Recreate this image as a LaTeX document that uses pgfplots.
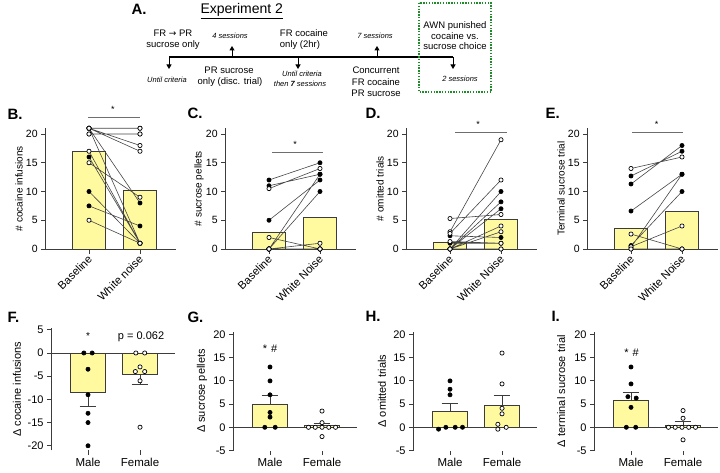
\documentclass[border=0pt]{standalone}
\usepackage{pgfplots}
\pgfplotsset{compat=1.18}
\usepackage{fontspec}
\setmainfont{Liberation Sans}
\newfontfamily\dejavu{DejaVu Sans}
\usetikzlibrary{arrows.meta}

\definecolor{baryel}{RGB}{255,250,160}
\definecolor{axg}{RGB}{60,60,60}
\definecolor{lng}{RGB}{70,70,70}
\definecolor{sigg}{RGB}{110,110,110}
\definecolor{boxg}{RGB}{30,140,40}

\newcommand{\fs}[1]{\fontsize{#1}{#1}\selectfont}

\pgfplotsset{
  panel/.style={
    scale only axis, axis lines*=left, clip=false, enlargelimits=false,
    tick align=outside,
    axis line style={draw=axg, line width=0.8pt},
    every tick/.style={draw=axg, line width=0.8pt},
    major tick length=4.5pt,
    xtick={0,1}, unbounded coords=jump,
    y tick label style={font=\fs{10.5}},
  },
  toprow/.style={panel, width=130.05pt, height=120.75pt,
    xmin=-0.85, xmax=1.7, ymin=0, ymax=21,
    ytick={0,5,10,15,20}, yticklabels={0,5,10,15,20},
    x tick label style={font=\fs{11.2}, rotate=45, anchor=east, yshift=-3.5pt, xshift=1.5pt},
    ylabel style={at={(axis description cs:-0.204,0.5)}, anchor=center, font=\fs{10}},
  },
  botrow/.style={panel, width=123.8pt, xmin=-0.7, xmax=1.68,
    x axis line style={draw=none},
    xticklabels={Male,Female},
    x tick label style={font=\fs{11.5}},
    y tick label style={font=\fs{11}},
  },
  bars/.style={ybar, bar width=0.66, fill=baryel, draw=axg, line width=0.8pt},
  conn/.style={draw=lng, line width=0.6pt, mark=none},
  mfill/.style={only marks, mark=*, mark size=2.1pt, mark options={draw=black, fill=black, line width=0.6pt}},
  mopen/.style={only marks, mark=*, mark size=2.1pt, mark options={draw=black, fill=white, line width=0.7pt}},
  errb/.style={draw=axg, line width=0.8pt, mark=none},
  zline/.style={draw=axg, line width=0.8pt, mark=none},
}

\begin{document}
\begin{tikzpicture}
\path[use as bounding box] (0pt,0pt) rectangle (720pt,-473pt);

% ---------------- Panel A ----------------
\node[anchor=base west, font=\bfseries\fs{15}] at (128pt,-15pt) {A.};
\node[anchor=base west, font=\fs{14}] at (197pt,-14pt) {\underline{Experiment 2}};
\draw[black, line width=1.1pt] (169pt,-57pt) -- (453pt,-57pt);
\foreach \xx in {169,298,453}{
  \draw[black, line width=1pt, -{Triangle[length=4.5pt,width=5pt]}] (\xx pt,-57pt) -- (\xx pt,-69pt);
}
\foreach \xx in {232,377}{
  \draw[black, line width=1pt, -{Triangle[length=4.5pt,width=5pt]}] (\xx pt,-57pt) -- (\xx pt,-46pt);
}
\node[anchor=base, font=\fs{9.5}] at (173pt,-37pt) {FR {\dejavu\fs{9}→} PR};
\node[anchor=base, font=\fs{9.5}] at (173pt,-48pt) {sucrose only};
\node[anchor=base, font=\itshape\fs{7.5}] at (230pt,-38.5pt) {4 sessions};
\node[anchor=base, font=\itshape\fs{7.5}] at (167pt,-83pt) {Until criteria};
\node[anchor=base, font=\fs{9.5}] at (229pt,-74pt) {PR sucrose};
\node[anchor=base, font=\fs{9.5}] at (230pt,-85pt) {only (disc. trial)};
\node[anchor=base, font=\fs{9.5}] at (304pt,-37pt) {FR cocaine};
\node[anchor=base, font=\fs{9.5}] at (300pt,-48pt) {only (2hr)};
\node[anchor=base, font=\itshape\fs{7.5}] at (302pt,-77pt) {Until criteria};
\node[anchor=base, font=\itshape\fs{7.5}] at (300pt,-87pt) {then \textbf{7} sessions};
\node[anchor=base, font=\itshape\fs{7.5}] at (375pt,-38.5pt) {7 sessions};
\node[anchor=base, font=\fs{9.5}] at (376pt,-74pt) {Concurrent};
\node[anchor=base, font=\fs{9.5}] at (376pt,-85.5pt) {FR cocaine};
\node[anchor=base, font=\fs{9.5}] at (376pt,-96.5pt) {PR sucrose};
\draw[boxg, line width=1.6pt, dash pattern=on 1.4pt off 1.4pt] (419pt,-3pt) rectangle (491pt,-92pt);
\node[anchor=base, font=\fs{9.5}] at (455pt,-29pt) {AWN punished};
\node[anchor=base, font=\fs{9.5}] at (455pt,-39.5pt) {cocaine vs.};
\node[anchor=base, font=\fs{9.5}] at (455pt,-50pt) {sucrose choice};
\node[anchor=base, font=\itshape\fs{7.5}] at (460pt,-82pt) {2 sessions};

% ---------------- Panel letters ----------------
\foreach \lab/\xx/\yy in {B./4/120, C./184/119, D./362/119, E./542/119, F./4/322, G./184/322, H./362/321, I./548/321}{
  \node[anchor=base west, font=\bfseries\fs{15}] at (\xx pt,-\yy pt) {\lab};
}

% ---------------- Panel B ----------------
\begin{axis}[toprow, at={(45.65pt,-249pt)}, anchor=south west,
  xticklabels={Baseline,White noise}, ylabel={\# cocaine infusions}]
\addplot[bars] coordinates {(0,16.9) (1,10.2)};
\addplot[conn] coordinates {(0,21)(1,21) (0.5,nan) (0,20)(1,20) (0.5,nan) (0,7.5)(1,4) (0.5,nan) (0,10)(1,1) (0.5,nan) (0,21)(1,8) (0.5,nan) (0,16)(1,1) (0.5,nan) (0,21)(1,1) (0.5,nan) (0,21)(1,18) (0.5,nan) (0,21)(1,17) (0.5,nan) (0,5)(1,1) (0.5,nan) (0,15)(1,9) (0.5,nan) (0,17)(1,1)};
\addplot[mfill] coordinates {(0,21)(1,21)(0,20)(1,20)(0,7.5)(1,4)(0,10)(1,1)(0,21)(1,8)(0,16)(1,1)(0,21)(1,1)};
\addplot[mopen] coordinates {(0,21)(1,21)(0,20)(1,20)(0,21)(1,18)(0,21)(1,17)(0,5)(1,1)(0,15)(1,9)(0,17)(1,1)};
\draw[sigg, line width=1pt] (axis cs:-0.02,22.8) -- (axis cs:1.0,22.8);
\node[font=\fs{9}] at (axis cs:0.47,24.2) {*};
\end{axis}

% ---------------- Panel C ----------------
\begin{axis}[toprow, at={(225.65pt,-249pt)}, anchor=south west,
  xticklabels={Baseline,White Noise}, ylabel={\# sucrose pellets}]
\addplot[bars] coordinates {(0,2.9) (1,5.55)};
\addplot[conn] coordinates {(0,12)(1,15) (0.5,nan) (0,11)(1,13) (0.5,nan) (0,5)(1,12) (0.5,nan) (0,0)(1,13) (0.5,nan) (0,0)(1,10) (0.5,nan) (0,10.5)(1,14) (0.5,nan) (0,2)(1,0) (0.5,nan) (0,0)(1,1) (0.5,nan) (0,0)(1,0)};
\addplot[mfill] coordinates {(0,12)(1,15)(0,11)(1,13)(0,5)(1,12)(0,0)(1,13)(0,0)(1,10)(0,0)(1,0)(0,0)(1,0)};
\addplot[mopen] coordinates {(0,10.5)(1,14)(0,2)(1,0)(0,0)(1,1)(0,0)(1,0)(0,0)(1,0)(0,0)(1,0)(0,0)(1,0)};
\draw[sigg, line width=1pt] (axis cs:0.06,16.7) -- (axis cs:1.06,16.7);
\node[font=\fs{9}] at (axis cs:0.51,18.2) {*};
\end{axis}

% ---------------- Panel D ----------------
\begin{axis}[toprow, at={(406.65pt,-249pt)}, anchor=south west,
  xticklabels={Baseline,White Noise}, ylabel={\# omitted trials}]
\addplot[bars] coordinates {(0,1.1) (1,5.2)};
\addplot[conn] coordinates {(0,0)(1,10) (0.5,nan) (0,0)(1,8.2) (0.5,nan) (0,0)(1,7) (0.5,nan) (0,2.3)(1,2) (0.5,nan) (0,1)(1,1) (0.5,nan) (0,5.3)(1,6) (0.5,nan) (0,3)(1,19) (0.5,nan) (0,2.7)(1,12) (0.5,nan) (0,0)(1,4) (0.5,nan) (0,0)(1,3) (0.5,nan) (0,1.3)(1,1) (0.5,nan) (0,0)(1,0)};
\addplot[mfill] coordinates {(0,0)(1,10)(0,0)(1,8.2)(0,0)(1,7)(0,2.3)(1,2)(0,1)(1,1)(0,0)(1,0)};
\addplot[mopen] coordinates {(0,5.3)(1,6)(0,3)(1,19)(0,2.7)(1,12)(0,0)(1,4)(0,0)(1,3)(0,1.3)(1,1)(0,0)(1,0)};
\draw[sigg, line width=1pt] (axis cs:0.1,20.2) -- (axis cs:1.12,20.2);
\node[font=\fs{9}] at (axis cs:0.55,21.7) {*};
\end{axis}

% ---------------- Panel E ----------------
\begin{axis}[toprow, at={(587.65pt,-249pt)}, anchor=south west,
  xticklabels={Baseline,White Noise}, ylabel={Terminal sucrose trial}]
\addplot[bars] coordinates {(0,3.5) (1,6.5)};
\addplot[conn] coordinates {(0,0.3)(1,13) (0.5,nan) (0,0.6)(1,10) (0.5,nan) (0,11.3)(1,18) (0.5,nan) (0,12.7)(1,17) (0.5,nan) (0,6.6)(1,13) (0.5,nan) (0,14)(1,16) (0.5,nan) (0,2.6)(1,0) (0.5,nan) (0,0.4)(1,4) (0.5,nan) (0,0)(1,0)};
\addplot[mfill] coordinates {(0,0.3)(1,13)(0,0.6)(1,10)(0,11.3)(1,18)(0,12.7)(1,17)(0,6.6)(1,13)(0,0)(1,0)};
\addplot[mopen] coordinates {(0,14)(1,16)(0,2.6)(1,0)(0,0.4)(1,4)(0,0)(1,0)};
\draw[sigg, line width=1pt] (axis cs:0.02,20.2) -- (axis cs:1.02,20.2);
\node[font=\fs{9}] at (axis cs:0.5,21.7) {*};
\end{axis}

% ---------------- Panel F ----------------
\begin{axis}[botrow, at={(51.6pt,-450.4pt)}, anchor=south west, height=122pt,
  ymin=-21, ymax=5.3, ytick={-20,-15,-10,-5,0,5}, yticklabels={-20,-15,-10,-5,0,5},
  ylabel={Δ cocaine infusions},
  ylabel style={at={(axis description cs:-0.28,0.5)}, anchor=center, font=\fs{11}}]
\addplot[bars] coordinates {(0,-8.6) (1,-4.65)};
\addplot[zline] coordinates {(-0.7,0) (1.68,0)};
\addplot[errb] coordinates {(0,-8.6)(0,-11.6) (0.5,nan) (-0.16,-11.6)(0.16,-11.6) (0.5,nan) (1,-4.65)(1,-6.75) (0.5,nan) (0.84,-6.75)(1.16,-6.75)};
\addplot[mfill] coordinates {(-0.08,0)(0.08,0)(0,-3.5)(0,-9)(0,-13)(0,-15)(0,-20)};
\addplot[mopen] coordinates {(0.92,0)(1.09,0)(1,-3)(0.91,-4)(1.09,-4)(1,-6)(1,-16)};
\node[font=\fs{10}] at (axis cs:0,3.6) {*};
\node[font=\fs{11}] at (axis cs:1.02,3.4) {p = 0.062};
\end{axis}

% ---------------- Panel G ----------------
\begin{axis}[botrow, at={(233.6pt,-450.5pt)}, anchor=south west, height=118.8pt,
  ymin=-5, ymax=20.6, ytick={-5,0,5,10,15,20}, yticklabels={-5,0,5,10,15,20},
  ylabel={Δ sucrose pellets},
  ylabel style={at={(axis description cs:-0.255,0.5)}, anchor=center, font=\fs{11}}]
\addplot[bars] coordinates {(0,5.0) (1,0.35)};
\addplot[zline] coordinates {(-0.7,0) (1.68,0)};
\addplot[errb] coordinates {(0,5.0)(0,6.9) (0.5,nan) (-0.16,6.9)(0.16,6.9) (0.5,nan) (1,0.35)(1,0.9) (0.5,nan) (0.84,0.9)(1.16,0.9)};
\addplot[mfill] coordinates {(0,13)(0,10)(0,7)(0,3.2)(0,2.2)(-0.1,0)(0.1,0)};
\addplot[mopen] coordinates {(1,3.5)(1,1)(0.74,0)(0.87,0)(1,0)(1.13,0)(1.26,0)(1,-2)};
\node[font=\fs{11}] at (axis cs:0,17) {*\hspace{4pt}\#};
\end{axis}

% ---------------- Panel H ----------------
\begin{axis}[botrow, at={(413.6pt,-450.5pt)}, anchor=south west, height=118.8pt,
  ymin=-5, ymax=20.6, ytick={-5,0,5,10,15,20}, yticklabels={-5,0,5,10,15,20},
  ylabel={Δ omitted trials},
  ylabel style={at={(axis description cs:-0.255,0.5)}, anchor=center, font=\fs{11}}]
\addplot[bars] coordinates {(0,3.5) (1,4.65)};
\addplot[zline] coordinates {(-0.7,0) (1.68,0)};
\addplot[errb] coordinates {(0,3.5)(0,5.25) (0.5,nan) (-0.16,5.25)(0.16,5.25) (0.5,nan) (1,4.65)(1,6.9) (0.5,nan) (0.84,6.9)(1.16,6.9)};
\addplot[mfill] coordinates {(0,10)(0,8.2)(0,7)(-0.22,-0.4)(-0.08,0)(0.1,0)(0.24,0)};
\addplot[mopen] coordinates {(1,16)(1,9.35)(1,4.1)(1,2.9)(0.92,0.65)(0.92,-0.4)(1.08,0)};
\end{axis}

% ---------------- Panel I ----------------
\begin{axis}[botrow, at={(594.6pt,-450.5pt)}, anchor=south west, height=118.8pt,
  ymin=-5, ymax=20.6, ytick={-5,0,5,10,15,20}, yticklabels={-5,0,5,10,15,20},
  ylabel={Δ terminal sucrose trial},
  ylabel style={at={(axis description cs:-0.27,0.5)}, anchor=center, font=\fs{11}}]
\addplot[bars] coordinates {(0,5.7) (1,0.4)};
\addplot[zline] coordinates {(-0.7,0) (1.68,0)};
\addplot[errb] coordinates {(0,5.7)(0,7.5) (0.5,nan) (-0.16,7.5)(0.16,7.5) (0.5,nan) (1,0.4)(1,1.2) (0.5,nan) (0.84,1.2)(1.16,1.2)};
\addplot[mfill] coordinates {(0,13)(0,9.35)(-0.06,6.6)(0.1,6.3)(0,4.3)(-0.09,0)(0.09,0)};
\addplot[mopen] coordinates {(1,3.6)(1,1.95)(0.72,0)(0.85,0)(0.98,0)(1.11,0)(1.24,0)(1,-2.7)};
\node[font=\fs{11}] at (axis cs:0.01,16.1) {*\hspace{4pt}\#};
\end{axis}
\end{tikzpicture}
\end{document}
